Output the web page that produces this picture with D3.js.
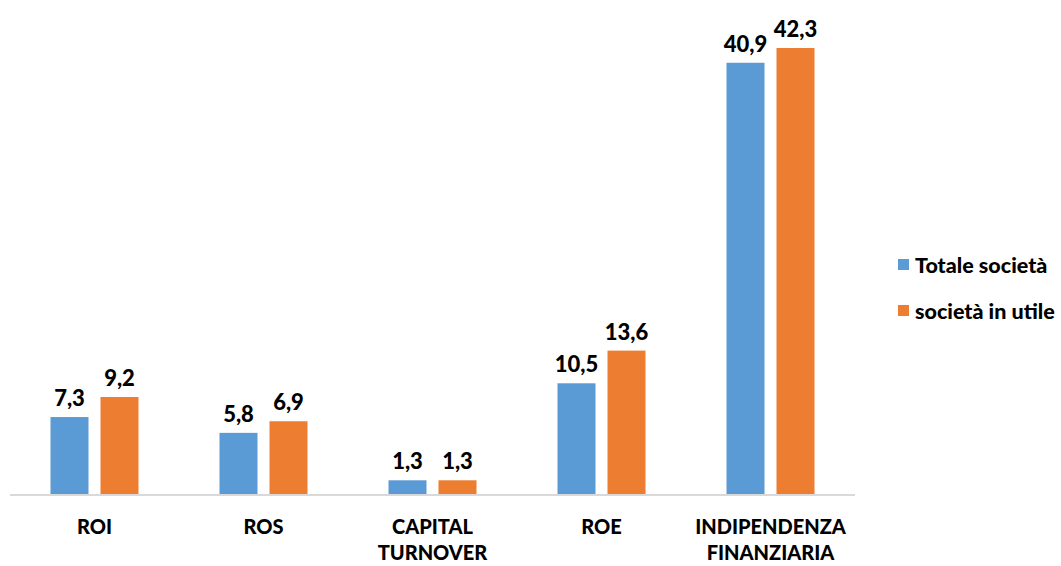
<!DOCTYPE html>
<html><head><meta charset="utf-8">
<script src="https://cdn.jsdelivr.net/npm/d3@7"></script>
<style>body{margin:0;background:#fff;} svg{display:block;font-family:Lato,"Open Sans",sans-serif;}</style>
</head><body>
<svg id="c" width="1061" height="566"></svg>
<script>
const categories = [["ROI"],["ROS"],["CAPITAL","TURNOVER"],["ROE"],["INDIPENDENZA","FINANZIARIA"]];
const seriesNames = ["Totale società","società in utile"];
const totale = [7.3,5.8,1.3,10.5,40.9];
const inUtile = [9.2,6.9,1.3,13.6,42.3];
const colors = ["#5B9BD5","#ED7D31"];

const svg = d3.select("#c");
const x0 = d3.scaleBand().domain(d3.range(categories.length)).range([10,855]).paddingInner(0).paddingOuter(0);
const x1 = d3.scaleBand().domain([0,1]).range([x0.bandwidth()/2-44, x0.bandwidth()/2+44]).paddingInner(0.24);
const y = d3.scaleLinear().domain([0,42.3]).range([494,48]);
const fmt = v => d3.format(".1f")(v).replace(".",",");
const series=[totale,inUtile];

series.forEach((vals,si)=>{
  const g = svg.append("g");
  g.selectAll("rect").data(vals).join("rect")
    .attr("x",(d,i)=>x0(i)+x1(si)).attr("width",x1.bandwidth())
    .attr("y",d=>y(d)).attr("height",d=>494-y(d)).attr("fill",colors[si]);
  g.selectAll("text").data(vals).join("text")
    .attr("x",(d,i)=>x0(i)+x1(si)+x1.bandwidth()/2).attr("y",d=>y(d)-11)
    .attr("text-anchor","middle").attr("font-size",22).attr("font-weight",900).attr("fill","#000")
    .text(fmt);
});

svg.append("line").attr("x1",10).attr("x2",855).attr("y1",495).attr("y2",495).attr("stroke","#d9d9d9").attr("stroke-width",2);

const cl = svg.append("g");
categories.forEach((lines,i)=>{
  const t = cl.append("text").attr("text-anchor","middle").attr("font-size",20).attr("font-weight",900).attr("fill","#000");
  lines.forEach((l,j)=>t.append("tspan").attr("x",x0(i)+x0.bandwidth()/2).attr("y",534+j*26).text(l));
});

const lg = svg.append("g");
seriesNames.forEach((n,i)=>{
  lg.append("rect").attr("x",898).attr("y",259+i*46).attr("width",11).attr("height",11).attr("fill",colors[i]);
  lg.append("text").attr("x",915).attr("y",273+i*46).attr("font-size",21.5).attr("font-weight",900).attr("fill","#000").text(n);
});
</script>
</body></html>
